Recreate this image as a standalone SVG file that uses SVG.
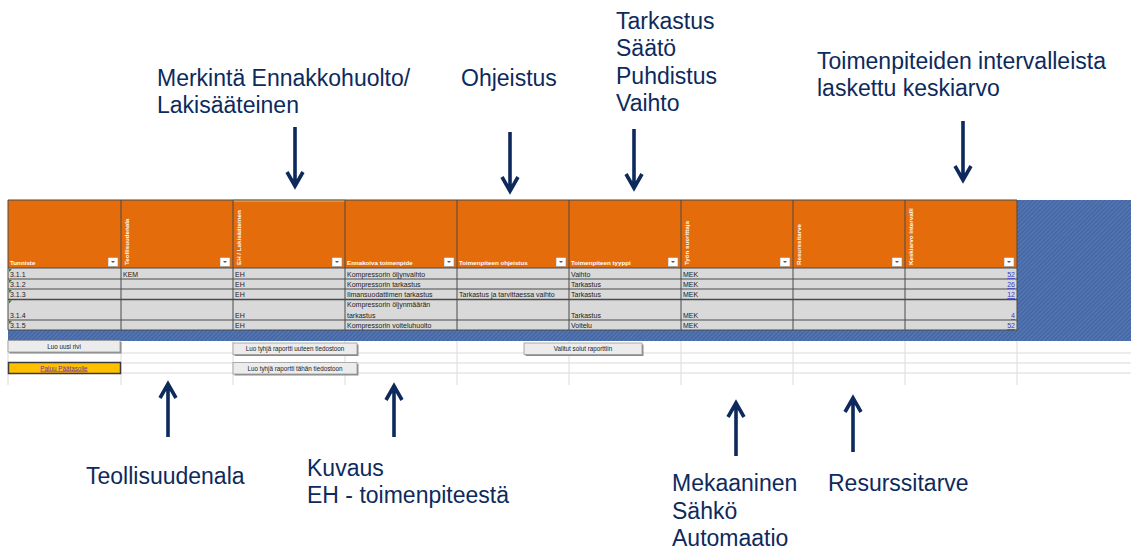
<svg xmlns="http://www.w3.org/2000/svg" width="1131" height="549" viewBox="0 0 1131 549">
<style>
.lbl{font-family:"Liberation Sans",Arial,sans-serif;font-size:23px;fill:#0E2A5C}
.hd{font-family:"Liberation Sans",Arial,sans-serif;font-size:6.2px;font-weight:bold;fill:#FFFFFF}
.cell{font-family:"Liberation Sans",Arial,sans-serif;font-size:7px;fill:#222}
.num{font-family:"Liberation Sans",Arial,sans-serif;font-size:7px;fill:#3a3ad0;text-decoration:underline}
.btn{fill:#ECECEC;stroke:#9A9A9A;stroke-width:0.8}
.btnt{font-family:"Liberation Sans",Arial,sans-serif;font-size:6.3px;fill:#222;text-anchor:middle}
.arr{fill:none;stroke:#0E2A5C;stroke-width:3.6;stroke-linejoin:miter}
.hdr{fill:#E46C0A}
.row{fill:#D9D9D9}
.grid{stroke:#4A4A4A;stroke-width:1}
.lgrid{stroke:#DADADA;stroke-width:1}
.dd{fill:#FFFFFF;stroke:#8A8A8A;stroke-width:0.6}
</style>
<defs>
<pattern id="hatch" width="3" height="3" patternUnits="userSpaceOnUse" patternTransform="rotate(45)">
<rect width="3" height="3" fill="#4568A6"/>
<line x1="0" y1="0" x2="0" y2="3" stroke="#6F8CC0" stroke-width="1"/>
</pattern>
<path id="ddarrow" d="M0,0 L4,0 L2,2 z" fill="#555"/>
</defs>
<rect width="1131" height="549" fill="#FFFFFF"/>

<g id="table">
<rect x="8" y="200" width="1009" height="68" class="hdr"/>
<line x1="233" y1="200.5" x2="345" y2="200.5" stroke="#F6B94A" stroke-width="2"/>
<rect x="1017" y="200" width="114" height="141" fill="url(#hatch)"/>
<rect x="8" y="330" width="1123" height="11" fill="url(#hatch)"/>
<rect x="8" y="268" width="1009" height="62" class="row"/>
<g class="grid">
<line x1="8" y1="200" x2="1017" y2="200"/>
<line x1="8" y1="268" x2="1017" y2="268"/>
<line x1="8" y1="279" x2="1017" y2="279"/>
<line x1="8" y1="289" x2="1017" y2="289"/>
<line x1="8" y1="299.5" x2="1017" y2="299.5" stroke-width="1.5"/>
<line x1="8" y1="320" x2="1017" y2="320"/>
<line x1="8" y1="330" x2="1017" y2="330"/>
<line x1="8" y1="200" x2="8" y2="330"/>
<line x1="121" y1="200" x2="121" y2="330"/>
<line x1="233" y1="200" x2="233" y2="330"/>
<line x1="345" y1="200" x2="345" y2="330"/>
<line x1="457" y1="200" x2="457" y2="330"/>
<line x1="569" y1="200" x2="569" y2="330"/>
<line x1="681" y1="200" x2="681" y2="330"/>
<line x1="793" y1="200" x2="793" y2="330"/>
<line x1="905" y1="200" x2="905" y2="330"/>
<line x1="1017" y1="200" x2="1017" y2="330"/>
</g>
<g class="lgrid">
<line x1="8" y1="353" x2="1131" y2="353"/>
<line x1="8" y1="363" x2="1131" y2="363"/>
<line x1="8" y1="373" x2="1131" y2="373"/>
<line x1="8" y1="341" x2="8" y2="385"/>
<line x1="121" y1="341" x2="121" y2="385"/>
<line x1="233" y1="341" x2="233" y2="385"/>
<line x1="345" y1="341" x2="345" y2="385"/>
<line x1="457" y1="341" x2="457" y2="385"/>
<line x1="569" y1="341" x2="569" y2="385"/>
<line x1="681" y1="341" x2="681" y2="385"/>
<line x1="793" y1="341" x2="793" y2="385"/>
<line x1="905" y1="341" x2="905" y2="385"/>
<line x1="1017" y1="341" x2="1017" y2="385"/>
</g>
<text class="hd" x="10" y="265">Tunniste</text>
<text class="hd" transform="translate(129,265) rotate(-90)">Teollisuudenala</text>
<text class="hd" transform="translate(241,265) rotate(-90)">EH / Lakisääteinen</text>
<text class="hd" x="347" y="265">Ennakoiva toimenpide</text>
<text class="hd" x="459" y="265">Toimenpiteen ohjeistus</text>
<text class="hd" x="571" y="265">Toimenpiteen tyyppi</text>
<text class="hd" transform="translate(689,265) rotate(-90)">Työn suorittaja</text>
<text class="hd" transform="translate(801,265) rotate(-90)">Resurssitarve</text>
<text class="hd" transform="translate(913,265) rotate(-90)">Keskiarvo intervalli</text>
<g>
<rect class="dd" x="108" y="257.5" width="10" height="9"/><use href="#ddarrow" x="111" y="261"/>
<rect class="dd" x="220" y="257.5" width="10" height="9"/><use href="#ddarrow" x="223" y="261"/>
<rect class="dd" x="332" y="257.5" width="10" height="9"/><use href="#ddarrow" x="335" y="261"/>
<rect class="dd" x="444" y="257.5" width="10" height="9"/><use href="#ddarrow" x="447" y="261"/>
<rect class="dd" x="556" y="257.5" width="10" height="9"/><use href="#ddarrow" x="559" y="261"/>
<rect class="dd" x="668" y="257.5" width="10" height="9"/><use href="#ddarrow" x="671" y="261"/>
<rect class="dd" x="780" y="257.5" width="10" height="9"/><use href="#ddarrow" x="783" y="261"/>
<rect class="dd" x="892" y="257.5" width="10" height="9"/><use href="#ddarrow" x="895" y="261"/>
<rect class="dd" x="1004" y="257.5" width="10" height="9"/><use href="#ddarrow" x="1007" y="261"/>
</g>
<g fill="#1E8C1E">
<path d="M9,269 L12,269 L9,272 z"/>
<path d="M9,280 L12,280 L9,283 z"/>
<path d="M9,290 L12,290 L9,293 z"/>
<path d="M9,300.5 L12,300.5 L9,303.5 z"/>
<path d="M9,321 L12,321 L9,324 z"/>
</g>
<text class="cell" x="10" y="277">3.1.1</text>
<text class="cell" x="10" y="287">3.1.2</text>
<text class="cell" x="10" y="297">3.1.3</text>
<text class="cell" x="10" y="318">3.1.4</text>
<text class="cell" x="10" y="328">3.1.5</text>
<text class="cell" x="123" y="277">KEM</text>
<text class="cell" x="235" y="277">EH</text>
<text class="cell" x="235" y="287">EH</text>
<text class="cell" x="235" y="297">EH</text>
<text class="cell" x="235" y="318">EH</text>
<text class="cell" x="235" y="328">EH</text>
<text class="cell" x="347" y="277">Kompressorin öljynvaihto</text>
<text class="cell" x="347" y="287">Kompressorin tarkastus</text>
<text class="cell" x="347" y="297">Ilmansuodattimen tarkastus</text>
<text class="cell" x="347" y="307">Kompressorin öljynmäärän</text>
<text class="cell" x="347" y="318">tarkastus</text>
<text class="cell" x="347" y="328">Kompressorin voiteluhuolto</text>
<text class="cell" x="459" y="297">Tarkastus ja tarvittaessa vaihto</text>
<text class="cell" x="571" y="277">Vaihto</text>
<text class="cell" x="571" y="287">Tarkastus</text>
<text class="cell" x="571" y="297">Tarkastus</text>
<text class="cell" x="571" y="318">Tarkastus</text>
<text class="cell" x="571" y="328">Voitelu</text>
<text class="cell" x="683" y="277">MEK</text>
<text class="cell" x="683" y="287">MEK</text>
<text class="cell" x="683" y="297">MEK</text>
<text class="cell" x="683" y="318">MEK</text>
<text class="cell" x="683" y="328">MEK</text>
<text class="num" x="1015" y="277" text-anchor="end">52</text>
<text class="num" x="1015" y="287" text-anchor="end">26</text>
<text class="num" x="1015" y="297" text-anchor="end">12</text>
<text class="num" x="1015" y="318" text-anchor="end">4</text>
<text class="num" x="1015" y="328" text-anchor="end">52</text>
</g>

<g id="buttons">
<rect x="9.5" y="342" width="112" height="11.5" fill="#8C8C8C"/>
<rect class="btn" x="8" y="340.5" width="112" height="11.5"/>
<text class="btnt" x="64" y="349">Luo uusi rivi</text>
<rect x="234.5" y="344.5" width="124" height="11.5" fill="#8C8C8C"/>
<rect class="btn" x="233" y="343" width="124" height="11.5"/>
<text class="btnt" x="295" y="351.3">Luo tyhjä raportti uuteen tiedostoon</text>
<rect x="234.5" y="364" width="124" height="11.5" fill="#8C8C8C"/>
<rect class="btn" x="233" y="362.5" width="124" height="11.5"/>
<text class="btnt" x="295" y="370.8">Luo tyhjä raportti tähän tiedostoon</text>
<rect x="525.5" y="344.5" width="118" height="11.5" fill="#8C8C8C"/>
<rect class="btn" x="524" y="343" width="118" height="11.5"/>
<text class="btnt" x="583" y="351.3">Valitut solut raporttiin</text>
<rect x="8.5" y="362.5" width="112" height="11" fill="#FFC000" stroke="#3A3A3A" stroke-width="1.5"/>
<text class="btnt" x="64" y="370.5" style="fill:#6A2FA8;text-decoration:underline">Paluu Päätasolle</text>
</g>

<g id="connectors">
<path class="arr" d="M295,127 V186 M287,172 L295,186 L303,172"/>
<path class="arr" d="M510,132 V191 M502,177 L510,191 L518,177"/>
<path class="arr" d="M634,129 V188 M626,174 L634,188 L642,174"/>
<path class="arr" d="M963,121 V180 M955,166 L963,180 L971,166"/>
<path class="arr" d="M168,437 V384 M160,398 L168,384 L176,398"/>
<path class="arr" d="M394,437 V386 M386,400 L394,386 L402,400"/>
<path class="arr" d="M736,456 V403 M728,417 L736,403 L744,417"/>
<path class="arr" d="M853,452 V398 M845,412 L853,398 L861,412"/>
</g>

<g id="label-merkinta"><text class="lbl" x="157" y="86">Merkintä Ennakkohuolto/</text><text class="lbl" x="157" y="113">Lakisääteinen</text></g>
<g id="label-ohjeistus"><text class="lbl" x="461" y="86">Ohjeistus</text></g>
<g id="label-tyyppi"><text class="lbl" x="616" y="29">Tarkastus</text><text class="lbl" x="616" y="56">Säätö</text><text class="lbl" x="616" y="84">Puhdistus</text><text class="lbl" x="616" y="111">Vaihto</text></g>
<g id="label-keskiarvo"><text class="lbl" x="817" y="69">Toimenpiteiden intervalleista</text><text class="lbl" x="817" y="96">laskettu keskiarvo</text></g>
<g id="label-teollisuudenala"><text class="lbl" x="86" y="484">Teollisuudenala</text></g>
<g id="label-kuvaus"><text class="lbl" x="307" y="476">Kuvaus</text><text class="lbl" x="307" y="503">EH - toimenpiteestä</text></g>
<g id="label-suorittaja"><text class="lbl" x="672" y="491">Mekaaninen</text><text class="lbl" x="672" y="519">Sähkö</text><text class="lbl" x="672" y="546">Automaatio</text></g>
<g id="label-resurssi"><text class="lbl" x="828" y="491">Resurssitarve</text></g>
</svg>
